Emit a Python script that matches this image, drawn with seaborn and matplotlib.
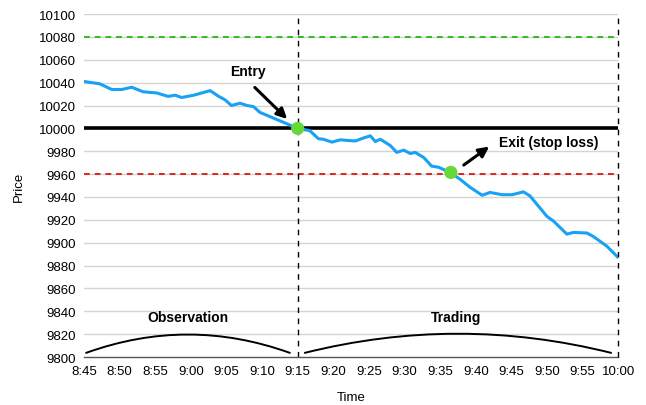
import pandas as pd
import numpy as np
import matplotlib
matplotlib.use("Agg")
import matplotlib.pyplot as plt
import seaborn as sns

# price path, minutes after 8:45
minutes = [0, 2.2, 3.9, 5.3, 6.7, 8.3, 10.2, 11.8, 12.8, 13.7, 15.4, 17.7, 18.2, 18.9,
           19.8, 20.7, 21.9, 22.9, 23.8, 24.7, 26.6, 28.5, 30.0, 31.7, 32.9, 33.6,
           34.8, 36.0, 36.9, 38.1, 39.2, 40.2, 40.9, 41.6, 43.0, 43.9, 44.9, 45.8,
           46.5, 47.7, 48.8, 49.8, 51.5, 52.8, 54.2, 55.9, 57.0, 58.7, 60.1, 61.7,
           62.6, 65.0, 65.9, 67.8, 68.7, 70.6, 71.5, 73.4, 75.0]
price = [10041, 10039, 10034, 10034, 10036, 10032, 10031, 10028, 10029, 10027, 10029,
         10033, 10031, 10028, 10025, 10020, 10022, 10020, 10019, 10014, 10009, 10004,
         10000, 9998, 9991, 9990.5, 9988, 9990, 9989.5, 9989, 9991.5, 9993.5, 9988.5,
         9990.5, 9985, 9979, 9981, 9978, 9979, 9974.5, 9967, 9966, 9961, 9955.5, 9948.5,
         9941.5, 9944, 9942, 9942, 9944.5, 9941, 9923, 9919, 9907.5, 9909, 9908.5,
         9905.5, 9897, 9887]

tick_minutes = list(range(0, 76, 5))
tick_labels = ["8:45", "8:50", "8:55", "9:00", "9:05", "9:10", "9:15", "9:20", "9:25",
               "9:30", "9:35", "9:40", "9:45", "9:50", "9:55", "10:00"]
y_ticks = list(range(9800, 10101, 20))

entry_level = 10000
take_profit = 10080
stop_loss = 9960
entry_time = 30
exit_time = 51.5
end_time = 75

df = pd.DataFrame({"Minute": minutes, "Price": price})

sns.set_style("white", {"text.color": "black", "axes.labelcolor": "black",
                        "xtick.color": "black", "ytick.color": "black"})
plt.rcParams['font.family'] = ['Liberation Sans', 'DejaVu Sans']

fig = plt.figure(figsize=(6.46, 4.06), dpi=100)
ax = fig.add_axes([0.130, 0.118, 0.827, 0.845])

for yt in y_ticks[1:]:
    ax.axhline(yt, color='#d4d4d4', lw=1, zorder=0)

ax.axhline(take_profit, color='#2ebd1e', lw=1.4, ls=(0, (3, 2.5)), zorder=2)
ax.axhline(stop_loss, color='#e0261c', lw=1.4, ls=(0, (3, 2.5)), zorder=2)
ax.axhline(entry_level, color='black', lw=2.6, zorder=2)
ax.axvline(entry_time, color='black', lw=1, ls=(0, (4, 4)), zorder=2)
ax.axvline(end_time, color='black', lw=1, ls=(0, (4, 4)), zorder=5, clip_on=False)

sns.lineplot(data=df, x="Minute", y="Price", color='#17a2f5', lw=2.2, ax=ax, zorder=3)

ax.scatter([entry_time, exit_time], [entry_level, stop_loss + 1.5], s=90,
           color='#66d93a', zorder=4, edgecolor='none')

# arrows + labels
ax.annotate("", xy=(28.8, 10006.5), xytext=(23.7, 10037.5),
            arrowprops=dict(arrowstyle='-|>', color='black', lw=2.2, mutation_scale=15))
ax.text(23.0, 10050, "Entry", ha='center', va='center', fontsize=10, fontweight='bold')
ax.annotate("", xy=(57.2, 9985.5), xytext=(53.0, 9966.5),
            arrowprops=dict(arrowstyle='-|>', color='black', lw=2.2, mutation_scale=15))
ax.text(58.2, 9988, "Exit (stop loss)", ha='left', va='center', fontsize=10, fontweight='bold')

# observation / trading arcs
ax.annotate("", xy=(28.9, 9803.7), xytext=(0.3, 9803.7),
            arrowprops=dict(arrowstyle='-', color='black', lw=1.4,
                            connectionstyle='arc3,rad=-0.18', shrinkA=0, shrinkB=0))
ax.annotate("", xy=(74.0, 9803.7), xytext=(31.0, 9803.7),
            arrowprops=dict(arrowstyle='-', color='black', lw=1.4,
                            connectionstyle='arc3,rad=-0.125', shrinkA=0, shrinkB=0))
ax.text(14.6, 9835, "Observation", ha='center', va='center', fontsize=10, fontweight='bold')
ax.text(52.2, 9835, "Trading", ha='center', va='center', fontsize=10, fontweight='bold')

ax.set_xlim(0, 75)
ax.set_ylim(9800, 10100)
ax.set_xticks(tick_minutes)
ax.set_xticklabels(tick_labels)
ax.set_yticks(y_ticks)
ax.tick_params(axis='both', labelsize=9.5, length=0, pad=6)
ax.set_xlabel("Time", fontsize=9.5, labelpad=10)
ax.set_ylabel("Price", fontsize=9.5, labelpad=10)

for side in ['top', 'right', 'left']:
    ax.spines[side].set_visible(False)
ax.spines['bottom'].set_color('#555555')
ax.spines['bottom'].set_linewidth(1)

fig.savefig("out.png", dpi=100)
